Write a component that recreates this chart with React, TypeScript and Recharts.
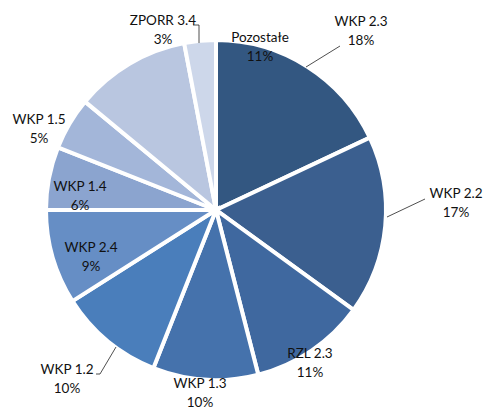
import { PieChart, Pie, Cell } from 'recharts';

// shares per programme, clockwise from 12 o'clock
const names = ['WKP 2.3', 'WKP 2.2', 'RZL 2.3', 'WKP 1.3', 'WKP 1.2', 'WKP 2.4', 'WKP 1.4', 'WKP 1.5', 'Pozostałe', 'ZPORR 3.4'];
const shares = [18, 17, 11, 10, 10, 9, 6, 5, 11, 3];
const colors = ['#335781', '#3b5f8f', '#3f689f', '#4572ac', '#4a7ebb', '#668ec5', '#8ba4cf', '#a3b6d9', '#b9c6e0', '#cdd7ea'];

// label placement relative to the pie centre (layout only)
const labelPos = [
    { dx: 145, dy: -184, line: [[90, -143], [124, -164]] },
    { dx: 240, dy: -12, line: [[171, 7], [209, -11]] },
    { dx: 94, dy: 148 },
    { dx: -16, dy: 178 },
    { dx: -149, dy: 164, line: [[-100, 137], [-116, 164], [-120, 164]] },
    { dx: -125, dy: 42 },
    { dx: -136, dy: -19 },
    { dx: -177, dy: -86 },
    { dx: 44, dy: -168 },
    { dx: -53, dy: -185, line: [[-17, -167], [-17, -185], [-23, -185]] },
];

const data = names.map((name, i) => ({ name, value: shares[i] }));

const CX = 216;
const CY = 210;

function renderLabel(props: any) {
    const { index } = props;
    const p = labelPos[index];
    const x = CX + p.dx;
    const y = CY + p.dy;
    return (
        <g key={index}>
            {p.line && (
                <polyline
                    points={p.line.map(([a, b]) => `${CX + a},${CY + b}`).join(' ')}
                    fill="none"
                    stroke="#222"
                    strokeWidth={0.8}
                />
            )}
            <text x={x} y={y} textAnchor="middle" fontSize={13.5} fontFamily="Lato, 'Open Sans', sans-serif" fill="#111">
                <tspan x={x} dy={0}>{names[index]}</tspan>
                <tspan x={x} dy={19}>{shares[index]}%</tspan>
            </text>
        </g>
    );
}

export default function App() {
    return (
        <div style={{ position: 'absolute', left: 0, top: 0, width: 483, height: 409, background: '#fff' }}>
            <PieChart width={483} height={409} margin={{ top: 0, right: 0, bottom: 0, left: 0 }} style={{ overflow: 'visible' }}>
                <Pie
                    data={data}
                    dataKey="value"
                    cx={CX}
                    cy={CY}
                    outerRadius={170}
                    startAngle={90}
                    endAngle={-270}
                    stroke="#fff"
                    strokeWidth={4}
                    label={renderLabel}
                    labelLine={false}
                    isAnimationActive={false}
                >
                    {data.map((d, i) => (
                        <Cell key={d.name} fill={colors[i]} />
                    ))}
                </Pie>
            </PieChart>
        </div>
    );
}
